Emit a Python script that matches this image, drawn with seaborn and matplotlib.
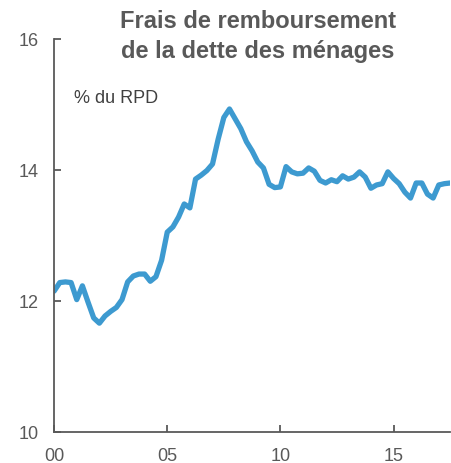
import numpy as np
import pandas as pd
import matplotlib
matplotlib.use("Agg")
import matplotlib.pyplot as plt
import seaborn as sns

# Quarterly values, 2000Q1 onwards (% of disposable income)
quarters = [2000 + i / 4 for i in range(71)]
repayment = [
    12.15, 12.28, 12.29, 12.28, 12.02, 12.23, 11.98, 11.74,
    11.66, 11.77, 11.84, 11.90, 12.02, 12.29, 12.38, 12.41,
    12.41, 12.30, 12.37, 12.62, 13.05, 13.13, 13.28, 13.48,
    13.42, 13.86, 13.92, 13.99, 14.09, 14.47, 14.80, 14.93,
    14.78, 14.63, 14.43, 14.29, 14.12, 14.03, 13.78, 13.73,
    13.74, 14.05, 13.97, 13.94, 13.95, 14.03, 13.98, 13.84,
    13.80, 13.85, 13.82, 13.91, 13.86, 13.89, 13.97, 13.89,
    13.72, 13.77, 13.79, 13.97, 13.87, 13.79, 13.66, 13.57,
    13.80, 13.80, 13.63, 13.57, 13.77, 13.79, 13.80,
]
x_ticks = [2000, 2005, 2010, 2015]
x_tick_labels = ["00", "05", "10", "15"]
y_ticks = [10, 12, 14, 16]

sns.set_style("white")
grey = '#595959'
plt.rcParams['font.family'] = ['Liberation Sans', 'DejaVu Sans']
plt.rcParams.update({
    'xtick.bottom': True, 'ytick.left': True,
    'xtick.direction': 'in', 'ytick.direction': 'in',
    'xtick.major.size': 5, 'ytick.major.size': 5,
    'xtick.major.width': 1.3, 'ytick.major.width': 1.3,
    'xtick.color': grey, 'ytick.color': grey,
})

df = pd.DataFrame({'date': quarters, 'value': repayment})

fig = plt.figure(figsize=(4.51, 4.64), dpi=100)
ax = fig.add_axes([0.12, 0.067, 0.878, 0.847])
sns.lineplot(data=df, x='date', y='value', ax=ax, color='#3D9AD0', linewidth=3.8)

ax.set_xlim(2000, 2017.5)
ax.set_ylim(10, 16)
ax.set_xticks(x_ticks)
ax.set_xticklabels(x_tick_labels)
ax.set_yticks(y_ticks)
ax.set_xlabel('')
ax.set_ylabel('')

for side in ['top', 'right']:
    ax.spines[side].set_visible(False)
for side in ['left', 'bottom']:
    ax.spines[side].set_color(grey)
    ax.spines[side].set_linewidth(1.3)

ax.tick_params(axis='both', labelcolor=grey, labelsize=13)
ax.tick_params(axis='y', pad=11)
ax.tick_params(axis='x', pad=11)

fig.text(0.572, 0.978, 'Frais de remboursement\nde la dette des ménages',
         ha='center', va='top', fontsize=17, fontweight='bold', color=grey,
         linespacing=1.4)
ax.text(0.05, 0.85, '% du RPD', transform=ax.transAxes, ha='left', va='center',
        fontsize=13, color='#404040')

plt.savefig('out.png', dpi=100)
plt.close()
